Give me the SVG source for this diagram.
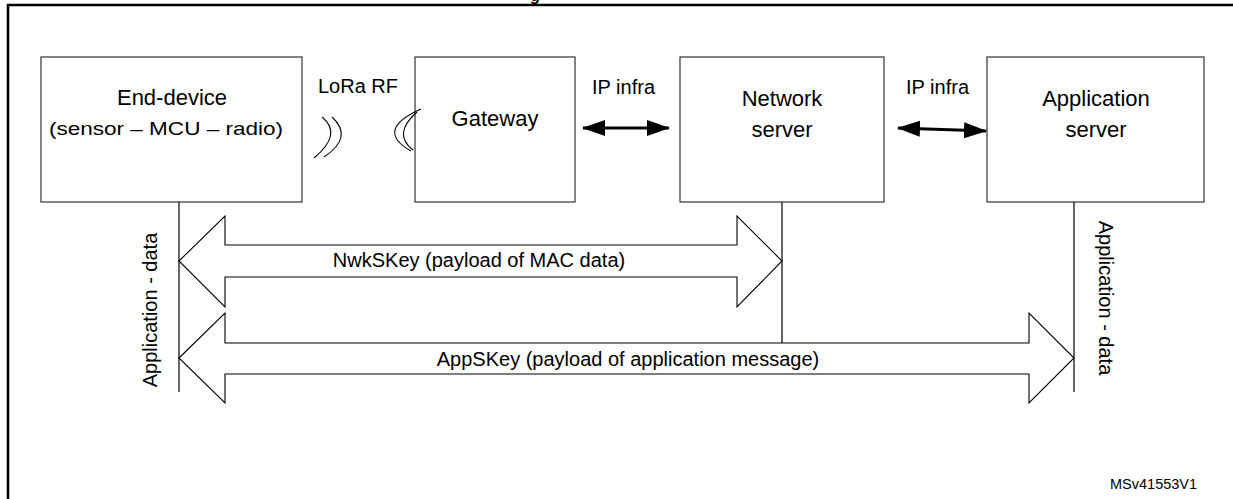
<svg xmlns="http://www.w3.org/2000/svg" width="1233" height="499" viewBox="0 0 1233 499">
<style>
text{font-family:"Liberation Sans",Arial,sans-serif;fill:#000}
.box{fill:#fff;stroke:#333;stroke-width:1.2}
.lbl{font-size:22px;text-anchor:middle}
.sm{font-size:20px}
.big{fill:#fff;stroke:#000;stroke-width:1.1}
.vl{stroke:#000;stroke-width:1.2;fill:none}
.wave{fill:none;stroke:#000;stroke-width:1.1}
.ip{stroke:#000;stroke-width:3;fill:none}
</style>
<defs>
<marker id="ah" markerUnits="userSpaceOnUse" markerWidth="24" markerHeight="18" refX="22" refY="9" orient="auto-start-reverse" viewBox="0 0 24 18">
<path d="M0,1 L23,9 L0,17 Z" fill="#000"/>
</marker>
</defs>
<text x="530" y="0.5" font-size="16" font-weight="bold">g</text>
<g id="frame">
<path d="M8,499 V5 H1233" fill="none" stroke="#000" stroke-width="2.6"/>
</g>
<g id="end-device">
<rect class="box" x="41" y="57" width="261" height="145"/>
<text class="lbl" x="172" y="105">End-device</text>
<text x="49" y="135" font-size="18.5" textLength="234" lengthAdjust="spacingAndGlyphs">(sensor – MCU – radio)</text>
</g>
<g id="gateway">
<rect class="box" x="415" y="57" width="160" height="145"/>
<text class="lbl" x="495" y="126">Gateway</text>
</g>
<g id="network-server">
<rect class="box" x="680" y="57" width="204" height="145"/>
<text class="lbl" x="782" y="106">Network</text>
<text class="lbl" x="782" y="137">server</text>
</g>
<g id="application-server">
<rect class="box" x="987" y="57" width="217" height="145"/>
<text class="lbl" x="1096" y="106">Application</text>
<text class="lbl" x="1096" y="137">server</text>
</g>
<g id="connectors">
<text class="sm" x="318" y="93">LoRa RF</text>
<path class="wave" d="M322,117 Q343,134 314,158"/>
<path class="wave" d="M332,117 Q354,137 324,157"/>
<path class="wave" d="M421,109 Q374,130 411,151"/>
<path class="wave" d="M417,112 Q392,134 413,150"/>
<text class="sm" x="592" y="94">IP infra</text>
<line class="ip" x1="583" y1="128" x2="669" y2="128" marker-start="url(#ah)" marker-end="url(#ah)"/>
<text class="sm" x="906" y="94">IP infra</text>
<line class="ip" x1="898" y1="128" x2="986" y2="131" marker-start="url(#ah)" marker-end="url(#ah)"/>
<line class="vl" x1="179" y1="202" x2="179" y2="392"/>
<line class="vl" x1="1074" y1="202" x2="1074" y2="392"/>
<polygon class="big" points="179,261 225,216 225,245 737,245 737,216 782,261 737,307 737,277 225,277 225,307"/>
<polygon class="big" points="179,358 225,313 225,343 1029,343 1029,313 1074,358 1029,403 1029,374 225,374 225,403"/>
<line class="vl" x1="782" y1="202" x2="782" y2="343"/>
<text class="sm" x="479" y="267" text-anchor="middle">NwkSKey (payload of MAC data)</text>
<text class="sm" x="628" y="366" text-anchor="middle">AppSKey (payload of application message)</text>
<text class="sm" text-anchor="middle" transform="translate(157,310) rotate(-90)">Application - data</text>
<text class="sm" text-anchor="middle" transform="translate(1099,298) rotate(90)">Application - data</text>
</g>
<text x="1110" y="489" font-size="14.5">MSv41553V1</text>
</svg>
